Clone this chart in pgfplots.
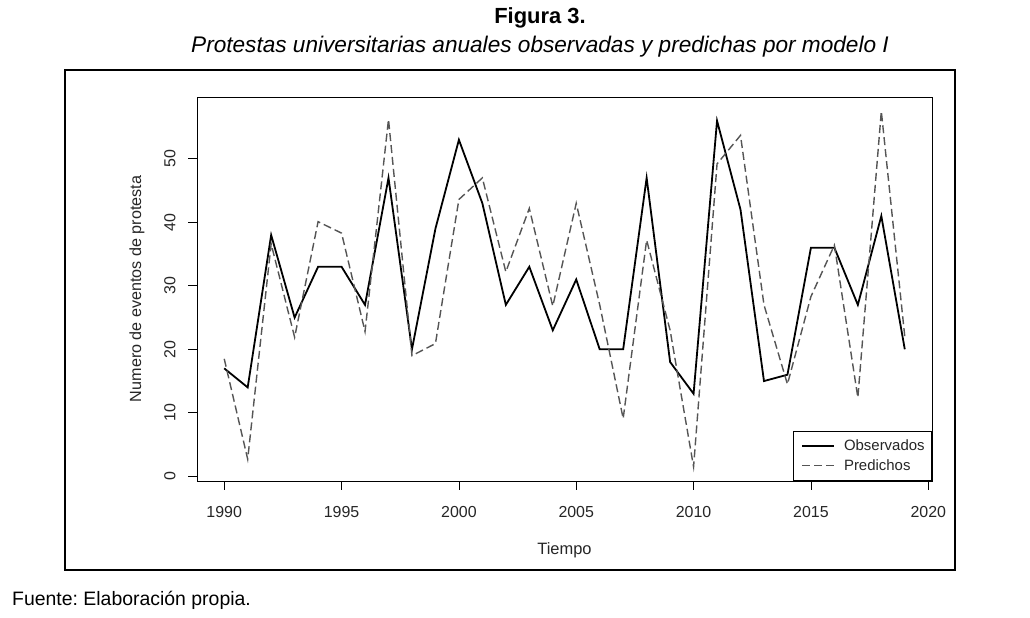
\documentclass[border=0pt]{standalone}
\usepackage{pgfplots}
\pgfplotsset{compat=1.18}
\usepackage{pgfplotstable}
\usepackage{fontspec}
\setmainfont{Liberation Sans}
\frenchspacing
\pgfplotstableread{
year obs pred
1990 17 18.5
1991 14 2.7
1992 38 36.6
1993 25 21.9
1994 33 40.1
1995 33 38.3
1996 27 22.8
1997 47 56.2
1998 20 19.0
1999 39 20.9
2000 53 43.6
2001 43 47.0
2002 27 32.2
2003 33 42.2
2004 23 26.8
2005 31 43.0
2006 20 27.0
2007 20 9.1
2008 47 37.2
2009 18 23.0
2010 13 1.5
2011 56 49.2
2012 42 53.7
2013 15 27.0
2014 16 14.5
2015 36 28.3
2016 36 36.4
2017 27 12.4
2018 41 57.5
2019 20 22.0
}\datatable
\definecolor{predgray}{HTML}{555555}
\begin{document}
\begin{tikzpicture}
\path[fill=white,use as bounding box] (0,0) rectangle (1030bp,618bp);
\draw[line width=1.1bp] (65bp,48bp) rectangle (955bp,548bp);
\node[font=\fontsize{22}{26}\selectfont\bfseries] at (540bp,600bp) {Figura 3.};
\node[font=\fontsize{22.7}{26}\selectfont\itshape] at (540bp,571bp) {Protestas universitarias anuales observadas y predichas por modelo I};
\node[font=\fontsize{19.5}{23}\selectfont,anchor=west,inner sep=0pt] at (12bp,18bp) {Fuente: Elaboración propia.};
\begin{axis}[
  at={(197bp,137bp)}, anchor=south west,
  width=735bp, height=384bp, scale only axis,
  xmin=1988.84, xmax=2020.16, ymin=-0.74, ymax=59.74,
  axis line style={line width=0.8bp},
  xtick={1990,1995,...,2020}, ytick={0,10,...,50},
  tick align=outside, major tick length=9bp,
  tick style={black,line width=0.8bp},
  xtick pos=bottom, ytick pos=left,
  xticklabel shift=13bp, yticklabel shift=9bp,
  /pgf/number format/assume math mode=true,
  /pgf/number format/1000 sep={},
  xticklabel style={font=\fontsize{16}{19}\selectfont, text=black!85},
  yticklabel style={font=\fontsize{16}{19}\selectfont, text=black!85, rotate=90, anchor=south},
  xlabel={Tiempo}, ylabel={Numero de eventos de protesta},
  xlabel style={font=\fontsize{16.5}{19}\selectfont, text=black!85, at={(axis description cs:0.5,-0.18)}, anchor=center},
  ylabel style={font=\fontsize{16.2}{19}\selectfont, text=black!85, at={(axis description cs:-0.0816,0.5)}, anchor=center},
  legend style={at={(1,0)}, anchor=south east, draw=black, line width=0.8bp,
    font=\fontsize{15}{17}\selectfont, text=black!85, inner xsep=5bp, inner ysep=7bp, row sep=3bp},
  legend cell align=left,
  legend image code/.code={\path[draw=none,fill=none] (-4bp,0bp) -- (40bp,0bp); \draw[#1] (0bp,0bp) -- (32bp,0bp);},
]
\addplot[black, line width=1.8bp] table[x=year,y=obs] {\datatable};
\addlegendentry{Observados}
\addplot[predgray, line width=1.4bp, dash pattern=on 8bp off 4bp] table[x=year,y=pred] {\datatable};
\addlegendentry{Predichos}
\end{axis}
\end{tikzpicture}
\end{document}
